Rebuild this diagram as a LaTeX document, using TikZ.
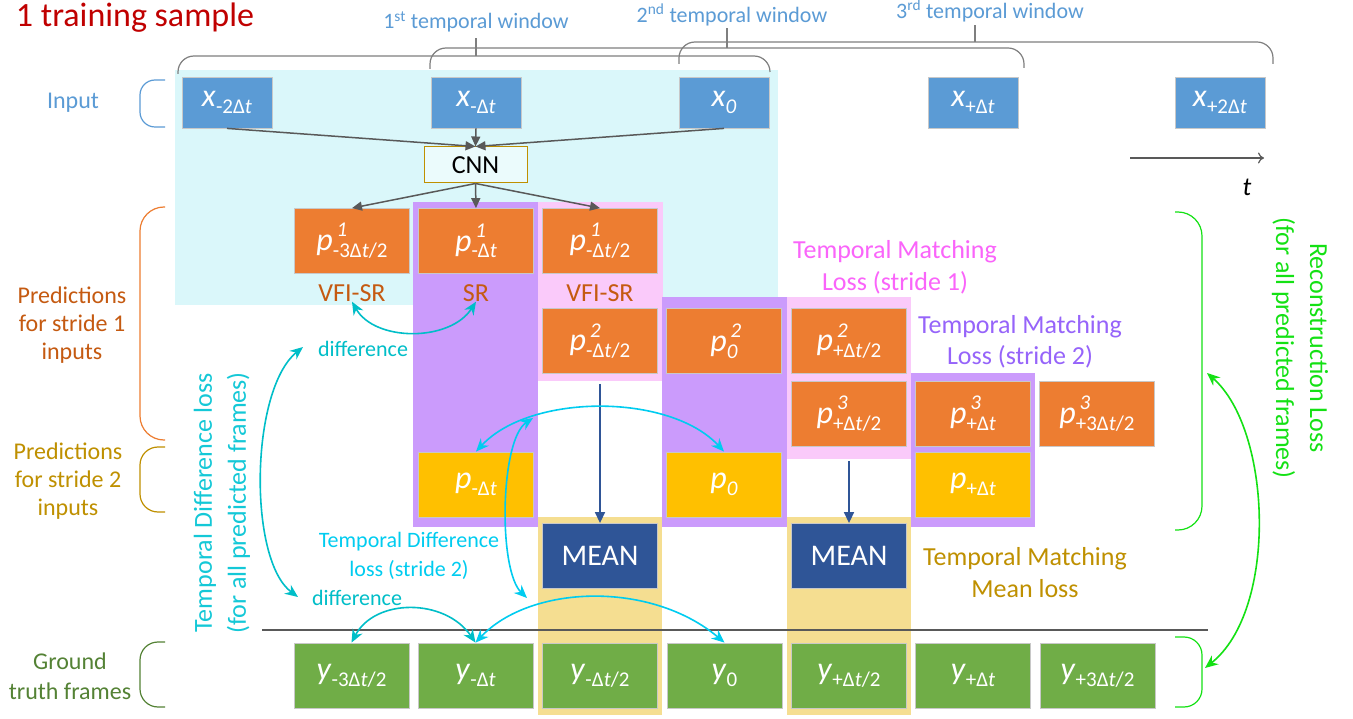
\documentclass[tikz,border=0pt]{standalone}
\usepackage{fontspec}
\setmainfont{Carlito}
\usetikzlibrary{arrows.meta}
\definecolor{cyanbg}{RGB}{218,247,250}
\definecolor{purpcol}{RGB}{203,155,252}
\definecolor{pinkcol}{RGB}{250,202,250}
\definecolor{goldcol}{RGB}{245,222,145}
\definecolor{inblue}{RGB}{91,155,213}
\definecolor{orangeC}{RGB}{237,125,49}
\definecolor{yellowC}{RGB}{255,192,0}
\definecolor{greenC}{RGB}{112,173,71}
\definecolor{meanC}{RGB}{47,85,151}
\definecolor{boxedge}{RGB}{200,200,200}
\definecolor{labOrange}{RGB}{197,90,17}
\definecolor{labGold}{RGB}{191,144,0}
\definecolor{labGreen}{RGB}{84,130,53}
\definecolor{titleRed}{RGB}{192,0,0}
\definecolor{brightGreen}{RGB}{20,225,20}
\definecolor{pinkText}{RGB}{250,100,250}
\definecolor{purpText}{RGB}{150,100,250}
\definecolor{tealC}{RGB}{0,190,200}
\definecolor{tdText}{RGB}{20,200,215}
\definecolor{lcyanC}{RGB}{0,204,240}
\definecolor{darkGray}{RGB}{89,89,89}
\definecolor{braceGray}{RGB}{127,127,127}
\newcommand\mydt{Δ\textit{t}}
\newcommand\SubT[2]{\textit{#1}\raisebox{-0.45ex}{\fontsize{21}{21}\selectfont #2}}
\newcommand\SupSubT[3]{\textit{#1}\rlap{\raisebox{0.9ex}{\kern0.12em\fontsize{21}{21}\selectfont\textit{#2}}}\raisebox{-0.45ex}{\fontsize{21}{21}\selectfont #3}}
\begin{document}
\begin{tikzpicture}[x=1pt,y=-1pt,
  box/.style={draw=boxedge, line width=0.8pt, minimum width=115pt, minimum height=65pt, inner sep=0pt, text=white, font=\fontsize{32}{34}\selectfont},
  inbox/.style={box, fill=inblue, minimum width=90pt, minimum height=51pt},
  obox/.style={box, fill=orangeC},
  ybox/.style={box, fill=yellowC},
  gbox/.style={box, fill=greenC},
  mbox/.style={box, fill=meanC, font=\fontsize{30}{32}\selectfont},
  lbl/.style={align=center, inner sep=0pt},
  grayarr/.style={draw=darkGray, line width=1.5pt, -{Triangle[length=10pt,width=9pt]}},
  bluearr/.style={draw=meanC, line width=1.5pt, -{Triangle[length=11pt,width=10pt]}},
  tealarr/.style={draw=tealC, line width=1.6pt, {Stealth[length=13pt,width=11pt]}-{Stealth[length=13pt,width=11pt]}},
  cyanarr/.style={draw=lcyanC, line width=1.6pt, {Stealth[length=13pt,width=11pt]}-{Stealth[length=13pt,width=11pt]}},
  grnarr/.style={draw=brightGreen, line width=1.6pt, {Stealth[length=13pt,width=11pt]}-{Stealth[length=13pt,width=11pt]}},
  wbrace/.style={draw=braceGray, line width=1.2pt, rounded corners=16pt},
  sidebrace/.style={line width=1.2pt, rounded corners=18pt}
]
\useasboundingbox (0,0) rectangle (1353,719);
\fill[white] (0,0) rectangle (1353,719);

% backgrounds
\fill[cyanbg] (175,70) rectangle (778,305);
\fill[purpcol] (413,202) rectangle (538,527);
\fill[pinkcol] (538,202) rectangle (663,381);
\fill[purpcol] (662,297) rectangle (787,527);
\fill[pinkcol] (787,297) rectangle (911,459);
\fill[purpcol] (911,373) rectangle (1035,527);
\fill[goldcol] (538,517) rectangle (662,715);
\fill[goldcol] (787,517) rectangle (911,715);

% title
\node[lbl, font=\fontsize{34}{40}\selectfont, text=titleRed] (title) at (135,18) {1 training sample};

% temporal windows
\node[lbl, font=\fontsize{22}{26}\selectfont, text=inblue] (w1) at (476,22) {1\textsuperscript{st} temporal window};
\node[lbl, font=\fontsize{22}{26}\selectfont, text=inblue] (w2) at (732,15) {2\textsuperscript{nd} temporal window};
\node[lbl, font=\fontsize{22}{26}\selectfont, text=inblue] (w3) at (990,11) {3\textsuperscript{rd} temporal window};
\draw[wbrace] (178,74) -- (178,56) -- (770,56) -- (770,72);
\draw[draw=braceGray, line width=1.2pt] (476,56) -- (476,38);
\draw[wbrace] (430,69) -- (430,48) -- (1024,48) -- (1024,68);
\draw[draw=braceGray, line width=1.2pt] (727,48) -- (727,28);
\draw[wbrace] (679,64) -- (679,42) -- (1273,42) -- (1273,64);
\draw[draw=braceGray, line width=1.2pt] (975,42) -- (975,25);

% left labels and braces
\node[lbl, font=\fontsize{24}{28}\selectfont, text=inblue] (linput) at (73,103) {Input};
\node[lbl, font=\fontsize{24}{28}\selectfont, text=labOrange] (lpred1) at (72,325) {Predictions\\for stride 1\\inputs};
\node[lbl, font=\fontsize{24}{28}\selectfont, text=labGold] (lpred2) at (68,481) {Predictions\\for stride 2\\inputs};
\node[lbl, font=\fontsize{24}{30}\selectfont, text=labGreen] (lgt) at (70,676) {Ground\\truth frames};
\draw[sidebrace, draw=inblue, rounded corners=15pt] (165,80) -- (140,80) -- (140,127) -- (165,127);
\draw[sidebrace, draw=orangeC, rounded corners=24pt] (165,207) -- (140,207) -- (140,440) -- (165,440);
\draw[sidebrace, draw=labGold] (165,447) -- (140,447) -- (140,512) -- (165,512);
\draw[sidebrace, draw=labGreen] (165,642) -- (140,642) -- (140,707) -- (165,707);

% right braces
\draw[sidebrace, draw=brightGreen, rounded corners=24pt] (1175,212) -- (1202,212) -- (1202,530) -- (1175,530);
\draw[sidebrace, draw=brightGreen] (1175,637) -- (1202,637) -- (1202,707) -- (1175,707);

% input boxes
\node[inbox] (x1) at (227,102.5) {\SubT{x}{-2\mydt}};
\node[inbox] (x2) at (476,102.5) {\SubT{x}{-\mydt}};
\node[inbox] (x3) at (724,102.5) {\SubT{x}{\textit{0}}};
\node[inbox] (x4) at (973,102.5) {\SubT{x}{+\mydt}};
\node[inbox] (x5) at (1220,102.5) {\SubT{x}{+2\mydt}};

% CNN
\node[draw=labGold, line width=1pt, fill=white!45!cyanbg, minimum width=103pt, minimum height=36pt, inner sep=0pt, font=\fontsize{26}{30}\selectfont] (cnn) at (475.5,165) {CNN};

% t axis
\coordinate (ta) at (1130,158);
\coordinate (tb) at (1264,158);
\draw[draw=darkGray, line width=1.2pt, -{To[length=6pt,width=11pt]}] (ta) -- (tb);
\node[lbl, font=\fontsize{26}{30}\selectfont\itshape] (tlab) at (1247,187) {t};

% predictions
\node[obox] (p1a) at (352,241) {\SupSubT{p}{1}{-3\mydt/2}};
\node[obox] (p1b) at (476,241) {\SupSubT{p}{1}{-\mydt}};
\node[obox] (p1c) at (600,241) {\SupSubT{p}{1}{-\mydt/2}};
\node[obox] (p2a) at (600,341) {\SupSubT{p}{2}{-\mydt/2}};
\node[obox] (p2b) at (724,341) {\SupSubT{p}{2}{\textit{0}}};
\node[obox] (p2c) at (849,341) {\SupSubT{p}{2}{+\mydt/2}};
\node[obox] (p3a) at (849,413.5) {\SupSubT{p}{3}{+\mydt/2}};
\node[obox] (p3b) at (973,413.5) {\SupSubT{p}{3}{+\mydt}};
\node[obox] (p3c) at (1097,413.5) {\SupSubT{p}{3}{+3\mydt/2}};

\node[lbl, font=\fontsize{26}{30}\selectfont, text=labOrange] (vfi1) at (352,293) {VFI-SR};
\node[lbl, font=\fontsize{26}{30}\selectfont, text=labOrange] (sr) at (476,293) {SR};
\node[lbl, font=\fontsize{26}{30}\selectfont, text=labOrange] (vfi2) at (600,293) {VFI-SR};

% stride 2 predictions
\node[ybox] (q1) at (476,484.5) {\SubT{p}{-\mydt}};
\node[ybox] (q2) at (724,484.5) {\SubT{p}{\textit{0}}};
\node[ybox] (q3) at (973,484.5) {\SubT{p}{+\mydt}};

% MEAN
\node[mbox] (m1) at (600,556) {MEAN};
\node[mbox] (m2) at (849,556) {MEAN};

% ground truth
\node[gbox] (g1) at (351.5,675.5) {\SubT{y}{-3\mydt/2}};
\node[gbox] (g2) at (475.5,675.5) {\SubT{y}{-\mydt}};
\node[gbox] (g3) at (600,675.5) {\SubT{y}{-\mydt/2}};
\node[gbox] (g4) at (724.5,675.5) {\SubT{y}{0}};
\node[gbox] (g5) at (849,675.5) {\SubT{y}{+\mydt/2}};
\node[gbox] (g6) at (973,675.5) {\SubT{y}{+\mydt}};
\node[gbox] (g7) at (1097.5,675.5) {\SubT{y}{+3\mydt/2}};

% separator line
\coordinate (hl1) at (262,630);
\coordinate (hl2) at (1208,630);
\draw[draw=darkGray, line width=1.5pt] (hl1) -- (hl2);

% CNN arrows
\draw[grayarr] (x1.south) -- (cnn.north);
\draw[grayarr] (x2.south) -- (cnn.north);
\draw[grayarr] (x3.south) -- (cnn.north);
\draw[grayarr] (cnn.south) -- (p1a.north);
\draw[grayarr] (cnn.south) -- (p1b.north);
\draw[grayarr] (cnn.south) -- (p1c.north);

% mean arrows
\coordinate (ma) at (600,384);
\coordinate (mb) at (849,461);
\draw[bluearr] (ma) -- (m1.north);
\draw[bluearr] (mb) -- (m2.north);

% temporal difference arrows
\draw[tealarr] (vfi1.south) .. controls (375,342) and (450,342) .. (sr.south);
\coordinate (tdt) at (303,347);
\coordinate (tdb) at (298,597);
\draw[tealarr] (tdt) .. controls (250,390) and (248,560) .. (tdb);
\draw[tealarr] (g1.north) .. controls (375,598) and (445,598) .. (g2.north);
\draw[cyanarr] (g2.north) .. controls (530,585) and (650,580) .. (g4.north);
\draw[cyanarr] (q1.north) .. controls (530,393) and (670,393) .. (q2.north);
\coordinate (vt) at (533,418);
\coordinate (vb) at (527,598);
\draw[cyanarr] (vt) .. controls (500,440) and (498,570) .. (vb);

% reconstruction arrow
\coordinate (rb1) at (1207,373);
\coordinate (rb2) at (1205,668);
\draw[grnarr] (rb1) .. controls (1272,430) and (1278,610) .. (rb2);

% loss labels
\node[lbl, font=\fontsize{22}{26}\selectfont, text=tealC] (diff1) at (363,349) {difference};
\node[lbl, font=\fontsize{22}{26}\selectfont, text=tealC] (diff2) at (357,598) {difference};
\node[lbl, font=\fontsize{22}{29}\selectfont, text=lcyanC] (tdl2) at (409,556) {Temporal Difference\\loss (stride 2)};
\node[lbl, font=\fontsize{26}{32}\selectfont, text=pinkText] (tml1) at (895,267) {Temporal Matching\\Loss (stride 1)};
\node[lbl, font=\fontsize{26}{31}\selectfont, text=purpText] (tml2) at (1020,342) {Temporal Matching\\Loss (stride 2)};
\node[lbl, font=\fontsize{26}{32}\selectfont, text=labGold] (tmm) at (1025,573) {Temporal Matching\\Mean loss};
\node[lbl, rotate=90, font=\fontsize{26}{34}\selectfont, text=tdText] (tdl) at (222,503) {Temporal Difference loss\\(for all predicted frames)};
\node[lbl, rotate=-90, font=\fontsize{26}{34}\selectfont, text=brightGreen] (rec) at (1300,348) {Reconstruction Loss\\(for all predicted frames)};
\end{tikzpicture}
\end{document}
